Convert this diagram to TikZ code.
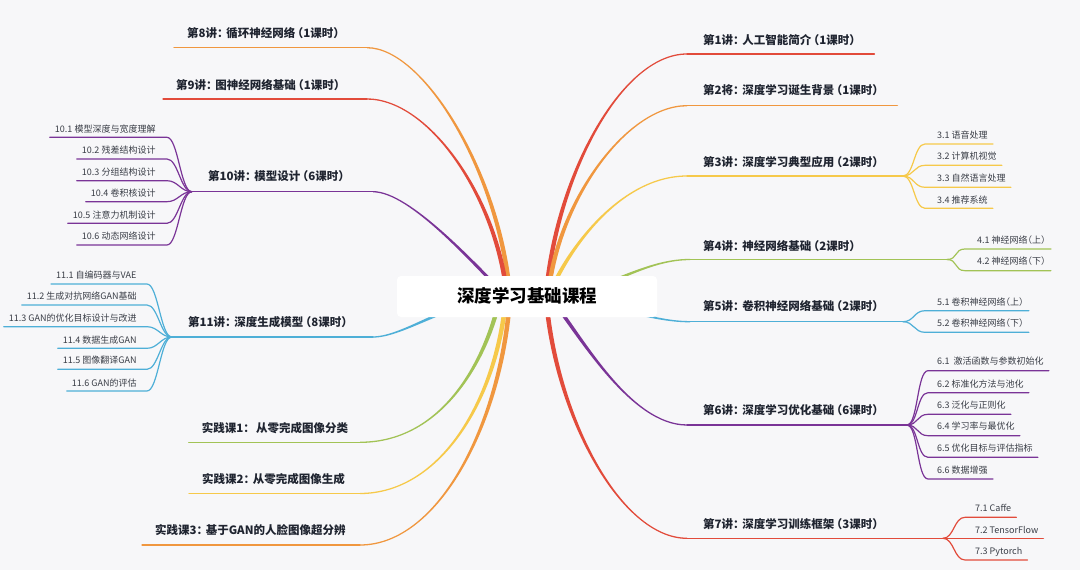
\documentclass[tikz,border=0pt]{standalone}
\usepackage{fontspec}
\setmainfont{Noto Sans CJK SC}[RawFeature=+halt]
\usetikzlibrary{calc}
\definecolor{bgc}{HTML}{F7F7F9}
\definecolor{cred}{HTML}{E24B3B}
\definecolor{corange}{HTML}{F0973F}
\definecolor{cyellow}{HTML}{F6C94A}
\definecolor{cgreen}{HTML}{A2C356}
\definecolor{cblue}{HTML}{4EAFD7}
\definecolor{cpurple}{HTML}{7A3497}
\definecolor{tmain}{HTML}{1F2430}
\definecolor{tsub}{HTML}{3A3E47}
\tikzset{
  mainlbl/.style={inner sep=0pt, text=tmain, text height=9.3pt, text depth=1.2pt, font=\fontsize{11.5}{14}\selectfont\bfseries},
  sublbl/.style={inner sep=0pt, text=tsub, text height=7.2pt, text depth=0.9pt, font=\fontsize{9}{11}\selectfont},
  ulmain/.style={line width=1.3pt, line cap=round},
  ulsub/.style={line width=1.2pt, line cap=round},
  rootbox/.style={fill=white, rounded corners=4pt, minimum width=260pt, minimum height=41pt, inner sep=0pt, text height=14pt, text depth=1.8pt, font=\fontsize{17.5}{20}\selectfont\bfseries, text=black},
}
\newcommand\mmcolon{：\hspace{0.3em}}
\newcommand\mmlp{\hspace{0.2em}（}
% tapered main branch: color, start, c1, c2, end, start half-offset, end half-offset
\newcommand\mmtaper[7]{\fill[#1] ($#2+#6$) .. controls ($#3+#6$) and ($#4+#7$) .. ($#5+#7$) -- ($#5-#7$) .. controls ($#4-#7$) and ($#3-#6$) .. ($#2-#6$) -- cycle;}
% right sub-branch: name, color, junction, curve end, text pos, text
\newcommand\mmsubR[6]{%
  \coordinate (#1s) at #4;
  \node[sublbl,anchor=west] (#1) at #5 {#6};
  \draw[ulsub,#2] (#3) .. controls +(11,0) and +(-11,0) .. (#1s) -- ($(#1s -| #1.east)+(5,0)$);}
% left sub-branch
\newcommand\mmsubL[6]{%
  \coordinate (#1s) at #4;
  \node[sublbl,anchor=east] (#1) at #5 {#6};
  \draw[ulsub,#2] (#3) .. controls +(-11,0) and +(11,0) .. (#1s) -- ($(#1s -| #1.west)+(-5,0)$);}
\begin{document}
\begin{tikzpicture}[x=1pt,y=-1pt]
\fill[bgc] (0,0) rectangle (1080,570);
\useasboundingbox (0,0) rectangle (1080,570);

% ---------- right side ----------
% B1
\coordinate (b1o) at (546,297); \coordinate (b1s) at (687,54);
\node[mainlbl,anchor=west] (t1) at (703,40) {第1讲\mmcolon 人工智能简介\mmlp 1课时）};
\mmtaper{cred}{(b1o)}{(555,180)}{(620,54)}{(b1s)}{(-2.3,0)}{(0,-0.65)}
\draw[ulmain,cred] (b1s) -- ($(b1s -| t1.east)+(19,0)$);
% B2
\coordinate (b2o) at (548,297); \coordinate (b2s) at (687,105.7);
\node[mainlbl,anchor=west] (t2) at (703,90) {第2将\mmcolon 深度学习诞生背景\mmlp 1课时）};
\mmtaper{corange}{(b2o)}{(556,205)}{(625,105.7)}{(b2s)}{(-2.3,0)}{(0,-0.65)}
\draw[ulmain,corange] (b2s) -- ($(b2s -| t2.east)+(19,0)$);
% B3
\coordinate (b3o) at (548,297); \coordinate (b3s) at (687,176); \coordinate (b3j) at (903,176);
\node[mainlbl,anchor=west] (t3) at (703,162.7) {第3讲\mmcolon 深度学习典型应用\mmlp 2课时）};
\mmtaper{cyellow}{(b3o)}{(567,250)}{(620,176)}{(b3s)}{(-2.3,0)}{(0,-0.65)}
\draw[ulmain,cyellow] (b3s) -- (b3j);
\mmsubR{t31}{cyellow}{b3j}{(925,144)}{(937,135)}{3.1 语音处理}
\mmsubR{t32}{cyellow}{b3j}{(925,165.3)}{(937,156.7)}{3.2 计算机视觉}
\mmsubR{t33}{cyellow}{b3j}{(925,187.3)}{(937,178.3)}{3.3 自然语言处理}
\mmsubR{t34}{cyellow}{b3j}{(925,208.3)}{(937,200)}{3.4 推荐系统}
% B4
\coordinate (b4o) at (547,297); \coordinate (b4s) at (690,259.5); \coordinate (b4j) at (947,259.5);
\node[mainlbl,anchor=west] (t4) at (703,246) {第4讲\mmcolon 神经网络基础\mmlp 2课时）};
\mmtaper{cgreen}{(b4o)}{(600,296)}{(640,259.5)}{(b4s)}{(0,-2.3)}{(0,-0.65)}
\draw[ulmain,cgreen] (b4s) -- (b4j);
\mmsubR{t41}{cgreen}{b4j}{(965,249)}{(977,240.7)}{4.1 神经网络（上）}
\mmsubR{t42}{cgreen}{b4j}{(965,270.7)}{(977,261.7)}{4.2 神经网络（下）}
% B5
\coordinate (b5o) at (547,297); \coordinate (b5s) at (690,321.7); \coordinate (b5j) at (903,321.7);
\node[mainlbl,anchor=west] (t5) at (703,306.7) {第5讲\mmcolon 卷积神经网络基础\mmlp 2课时）};
\mmtaper{cblue}{(b5o)}{(600,298)}{(645,321.7)}{(b5s)}{(0,2.3)}{(0,0.65)}
\draw[ulmain,cblue] (b5s) -- (b5j);
\mmsubR{t51}{cblue}{b5j}{(925,310.7)}{(937,302.7)}{5.1 卷积神经网络（上）}
\mmsubR{t52}{cblue}{b5j}{(925,332.3)}{(937,323.3)}{5.2 卷积神经网络（下）}
% B6
\coordinate (b6o) at (550,297); \coordinate (b6s) at (687,425); \coordinate (b6j) at (907,425);
\node[mainlbl,anchor=west] (t6) at (703,410) {第6讲\mmcolon 深度学习优化基础\mmlp 6课时）};
\mmtaper{cpurple}{(b6o)}{(580,335)}{(630,425)}{(b6s)}{(-2.3,0)}{(0,0.65)}
\draw[ulmain,cpurple] (b6s) -- (b6j);
\mmsubR{t61}{cpurple}{b6j}{(928,370.7)}{(937,361.7)}{6.1\ \ 激活函数与参数初始化}
\mmsubR{t62}{cpurple}{b6j}{(928,392.7)}{(937,384)}{6.2 标准化方法与池化}
\mmsubR{t63}{cpurple}{b6j}{(928,414.3)}{(937,405.7)}{6.3 泛化与正则化}
\mmsubR{t64}{cpurple}{b6j}{(928,435.7)}{(937,426.7)}{6.4 学习率与最优化}
\mmsubR{t65}{cpurple}{b6j}{(928,457.3)}{(937,448.3)}{6.5 优化目标与评估指标}
\mmsubR{t66}{cpurple}{b6j}{(928,479)}{(937,470)}{6.6 数据增强}
% B7
\coordinate (b7o) at (546,297); \coordinate (b7s) at (687,538.3); \coordinate (b7j) at (943,538.3);
\node[mainlbl,anchor=west] (t7) at (703,524) {第7讲\mmcolon 深度学习训练框架\mmlp 3课时）};
\mmtaper{cred}{(b7o)}{(555,414)}{(620,538.3)}{(b7s)}{(-2.3,0)}{(0,0.65)}
\draw[ulmain,cred] (b7s) -- (b7j);
\mmsubR{t71}{cred}{b7j}{(965,517.3)}{(975,508.3)}{7.1 Caffe}
\mmsubR{t72}{cred}{b7j}{(965,538.3)}{(975,530)}{7.2 TensorFlow}
\mmsubR{t73}{cred}{b7j}{(965,560)}{(975,551.7)}{7.3 Pytorch}

% ---------- left side ----------
% B8
\coordinate (b8o) at (510,297); \coordinate (b8s) at (367,47.7);
\node[mainlbl,anchor=west] (t8) at (187,33.3) {第8讲\mmcolon 循环神经网络\mmlp 1课时）};
\mmtaper{corange}{(b8o)}{(501,177)}{(425,47.7)}{(b8s)}{(-2.3,0)}{(0,0.65)}
\draw[ulmain,corange] (b8s) -- ($(b8s -| t8.west)+(-13,0)$);
% B9
\coordinate (b9o) at (507,297); \coordinate (b9s) at (367,99);
\node[mainlbl,anchor=west] (t9) at (176,85) {第9讲\mmcolon 图神经网络基础\mmlp 1课时）};
\mmtaper{cred}{(b9o)}{(498,200)}{(430,99)}{(b9s)}{(-2.3,0)}{(0,0.65)}
\draw[ulmain,cred] (b9s) -- ($(b9s -| t9.west)+(-13,0)$);
% B10
\coordinate (b10o) at (507,297); \coordinate (b10s) at (373,191.7); \coordinate (b10j) at (191.7,191.7);
\node[mainlbl,anchor=west] (t10) at (208,176.7) {第10讲\mmcolon 模型设计\mmlp 6课时）};
\mmtaper{cpurple}{(b10o)}{(475,265)}{(410,191.7)}{(b10s)}{(-2.3,0)}{(0,0.65)}
\draw[ulmain,cpurple] (b10s) -- (b10j);
\mmsubL{t101}{cpurple}{b10j}{(167,137.3)}{(155.7,129.3)}{10.1 模型深度与宽度理解}
\mmsubL{t102}{cpurple}{b10j}{(167,159)}{(155.7,150.7)}{10.2 残差结构设计}
\mmsubL{t103}{cpurple}{b10j}{(167,180.7)}{(155.7,172.3)}{10.3 分组结构设计}
\mmsubL{t104}{cpurple}{b10j}{(167,201.7)}{(155.7,193.3)}{10.4 卷积核设计}
\mmsubL{t105}{cpurple}{b10j}{(167,223.3)}{(155.7,215)}{10.5 注意力机制设计}
\mmsubL{t106}{cpurple}{b10j}{(167,245)}{(155.7,236.7)}{10.6 动态网络设计}
% B11
\coordinate (b11o) at (507,297); \coordinate (b11s) at (373,337); \coordinate (b11j) at (171.7,337);
\node[mainlbl,anchor=west] (t11) at (188,322.7) {第11讲\mmcolon 深度生成模型\mmlp 8课时）};
\mmtaper{cblue}{(b11o)}{(455,297)}{(405,337)}{(b11s)}{(0,2.3)}{(0,0.65)}
\draw[ulmain,cblue] (b11s) -- (b11j);
\mmsubL{t111}{cblue}{b11j}{(147,284)}{(136.7,275)}{11.1 自编码器与VAE}
\mmsubL{t112}{cblue}{b11j}{(147,305)}{(136.7,296.7)}{11.2 生成对抗网络GAN基础}
\mmsubL{t113}{cblue}{b11j}{(147,326.7)}{(136.7,318.3)}{11.3 GAN的优化目标设计与改进}
\mmsubL{t114}{cblue}{b11j}{(147,348.3)}{(136.7,340)}{11.4 数据生成GAN}
\mmsubL{t115}{cblue}{b11j}{(147,369.3)}{(136.7,360.7)}{11.5 图像翻译GAN}
\mmsubL{t116}{cblue}{b11j}{(147,391)}{(136.7,383.3)}{11.6 GAN的评估}
% Practice 1
\coordinate (p1o) at (500,297); \coordinate (p1s) at (360,442.3);
\node[mainlbl,anchor=west] (tp1) at (201.7,428.3) {实践课1\mmcolon\hspace{0.3em}从零完成图像分类};
\mmtaper{cgreen}{(p1o)}{(488,355)}{(445,442.3)}{(p1s)}{(-2.3,0)}{(0,-0.65)}
\draw[ulmain,cgreen] (p1s) -- ($(p1s -| tp1.west)+(-13,0)$);
% Practice 2
\coordinate (p2o) at (506,297); \coordinate (p2s) at (360,493.5);
\node[mainlbl,anchor=west] (tp2) at (202,479.3) {实践课2\mmcolon 从零完成图像生成};
\mmtaper{cyellow}{(p2o)}{(497,400)}{(440,493.5)}{(p2s)}{(-2.3,0)}{(0,-0.65)}
\draw[ulmain,cyellow] (p2s) -- ($(p2s -| tp2.west)+(-13,0)$);
% Practice 3
\coordinate (p3o) at (510,297); \coordinate (p3s) at (360,545);
\node[mainlbl,anchor=west] (tp3) at (155,530) {实践课3\mmcolon 基于GAN的人脸图像超分辨};
\mmtaper{corange}{(p3o)}{(502,420)}{(440,545)}{(p3s)}{(-2.3,0)}{(0,-0.65)}
\draw[ulmain,corange] (p3s) -- ($(p3s -| tp3.west)+(-13,0)$);

% ---------- root ----------
\node[rootbox] (root) at (527,296.5) {深度学习基础课程};
\end{tikzpicture}
\end{document}
